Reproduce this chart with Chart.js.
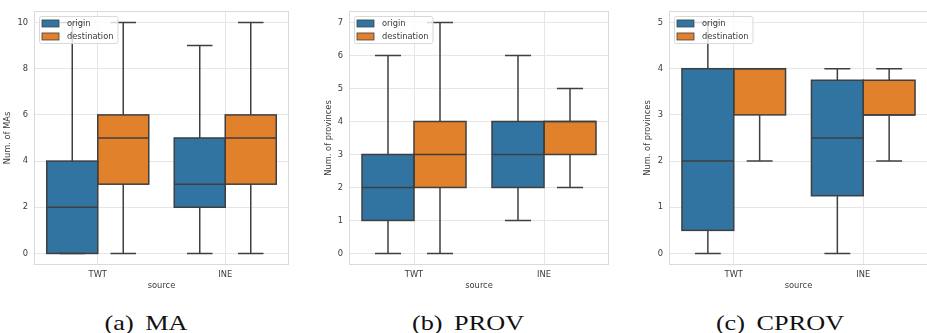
<!DOCTYPE html>
<html>
<head>
<meta charset="utf-8">
<script src="https://cdn.jsdelivr.net/npm/chart.js@4.4.0/dist/chart.umd.min.js"></script>
<style>
  body { margin: 0; width: 927px; height: 333px; overflow: hidden; background: #fff; position: relative; }
  canvas.panel { position: absolute; top: 0; }
  .cap { position: absolute; top: 313px; font-family: "Liberation Serif", serif; font-size: 21px; line-height: 21px;
         white-space: nowrap; word-spacing: 4px; color: #111; transform: translateX(-50%) scaleX(1.25); }
</style>
</head>
<body>
<canvas id="c1" class="panel" width="300" height="300" style="left:0px"></canvas>
<canvas id="c2" class="panel" width="310" height="300" style="left:310px"></canvas>
<canvas id="c3" class="panel" width="320" height="300" style="left:620px"></canvas>
<div class="cap" style="left:146px">(a) MA</div>
<div class="cap" style="left:468px">(b) PROV</div>
<div class="cap" style="left:780px">(c) CPROV</div>
<script>
var categories = ['TWT', 'INE'];
var seriesNames = ['origin', 'destination'];

// one entry per category: [min, q1, median, q3, max]
var maOrigin = [[0, 0, 2, 4, 10], [0, 2, 3, 5, 9]];
var maDest = [[0, 3, 5, 6, 10], [0, 3, 5, 6, 10]];
var provOrigin = [[0, 1, 2, 3, 6], [1, 2, 3, 4, 6]];
var provDest = [[0, 2, 3, 4, 7], [2, 3, 4, 4, 5]];
var cprovOrigin = [[0, 0.5, 2, 4, 5], [0, 1.25, 2.5, 3.75, 4]];
var cprovDest = [[2, 3, 4, 4, 4], [2, 3, 3, 3.75, 4]];

var blue = '#3274a1';
var orange = '#e1812c';
var edge = '#3f3f3f';
var txt = '#3a3a3a';
var fontFam = '"DejaVu Sans", sans-serif';
var fs = 8.3;

var boxPlugin = {
  id: 'boxParts',
  beforeDatasetsDraw: function (chart) {
    var a = chart.chartArea, ctx = chart.ctx;
    ctx.save();
    ctx.strokeStyle = '#dadada';
    ctx.lineWidth = 1;
    ctx.strokeRect(a.left + 0.5, a.top + 0.5, a.right - a.left - 1, a.bottom - a.top - 1);
    ctx.restore();
  },
  afterDatasetsDraw: function (chart) {
    // box outline, median, whiskers and caps from each box's stats
    var y = chart.scales.y, ctx = chart.ctx;
    ctx.save();
    ctx.strokeStyle = edge;
    ctx.lineWidth = 1.5;
    chart.data.datasets.forEach(function (ds, di) {
      var meta = chart.getDatasetMeta(di);
      meta.data.forEach(function (bar, i) {
        var s = ds.stats[i];
        var x = bar.x, hw = bar.width / 2, cw = bar.width / 4;
        var p = s.map(function (v) { return y.getPixelForValue(v); });
        ctx.strokeRect(x - hw, p[3], hw * 2, p[1] - p[3]);
        ctx.beginPath();
        ctx.moveTo(x, p[0]); ctx.lineTo(x, p[1]);
        ctx.moveTo(x, p[3]); ctx.lineTo(x, p[4]);
        ctx.moveTo(x - cw, p[0]); ctx.lineTo(x + cw, p[0]);
        ctx.moveTo(x - cw, p[4]); ctx.lineTo(x + cw, p[4]);
        ctx.moveTo(x - hw, p[2]); ctx.lineTo(x + hw, p[2]);
        ctx.stroke();
      });
    });
    ctx.restore();
  },
  afterDraw: function (chart) {
    // legend box, top-left inside the axes
    var a = chart.chartArea, ctx = chart.ctx;
    ctx.save();
    ctx.font = fs + 'px ' + fontFam;
    var dss = chart.data.datasets;
    var tw = 0;
    dss.forEach(function (d) { tw = Math.max(tw, ctx.measureText(d.label).width); });
    var bx = a.left + 5, by = a.top + 5, bw = 3 + 17 + 8 + tw + 4, bh = 27;
    ctx.fillStyle = 'rgba(255,255,255,0.8)';
    ctx.strokeStyle = '#d8d8d8';
    ctx.lineWidth = 1;
    ctx.beginPath();
    ctx.roundRect(bx + 0.5, by + 0.5, bw, bh, 2);
    ctx.fill();
    ctx.stroke();
    dss.forEach(function (d, i) {
      var cy = by + 7.5 + i * 13;
      ctx.fillStyle = d.backgroundColor;
      ctx.fillRect(bx + 3, cy - 3.5, 17, 7);
      ctx.strokeStyle = edge;
      ctx.lineWidth = 0.8;
      ctx.strokeRect(bx + 3, cy - 3.5, 17, 7);
      ctx.fillStyle = txt;
      ctx.textBaseline = 'middle';
      ctx.fillText(d.label, bx + 28, cy);
    });
    ctx.restore();
  }
};

function boxSet(name, color, stats) {
  return {
    label: name,
    data: stats.map(function (s) { return [s[1], s[3]]; }),
    stats: stats,
    backgroundColor: color,
    borderWidth: 0,
    categoryPercentage: 0.8,
    barPercentage: 1.0
  };
}

function makePanel(id, yTitle, origin, dest, yMin, yMax, step, yWidth, titlePad, rightPad) {
  return new Chart(document.getElementById(id), {
    type: 'bar',
    data: {
      labels: categories,
      datasets: [boxSet(seriesNames[0], blue, origin), boxSet(seriesNames[1], orange, dest)]
    },
    options: {
      responsive: false,
      animation: false,
      layout: { padding: { top: 8, right: rightPad, left: 0, bottom: 0 } },
      plugins: { legend: { display: false }, tooltip: { enabled: false } },
      scales: {
        x: {
          offset: true,
          grid: { offset: false, color: '#e6e6e6', drawTicks: false },
          border: { display: false },
          ticks: { color: txt, font: { family: fontFam, size: fs }, padding: 5 },
          title: { display: true, text: 'source', color: txt, font: { family: fontFam, size: fs }, padding: { top: 0, bottom: 9 } },
          afterFit: function (s) { s.height = 35; }
        },
        y: {
          min: yMin,
          max: yMax,
          grid: { color: '#e6e6e6', drawTicks: false },
          border: { display: false },
          ticks: { stepSize: step, includeBounds: false, color: txt, font: { family: fontFam, size: fs }, padding: 6 },
          title: { display: true, text: yTitle, color: txt, font: { family: fontFam, size: fs }, padding: { top: titlePad, bottom: 0 } },
          afterFit: function (s) { s.width = yWidth; }
        }
      }
    },
    plugins: [boxPlugin]
  });
}

makePanel('c1', 'Num. of MAs', maOrigin, maDest, -0.5, 10.5, 2, 34, 3, 11);
makePanel('c2', 'Num. of provinces', provOrigin, provDest, -0.35, 7.35, 1, 39, 14, 11);
makePanel('c3', 'Num. of provinces', cprovOrigin, cprovDest, -0.25, 5.25, 1, 49, 23, 12);
</script>
</body>
</html>
